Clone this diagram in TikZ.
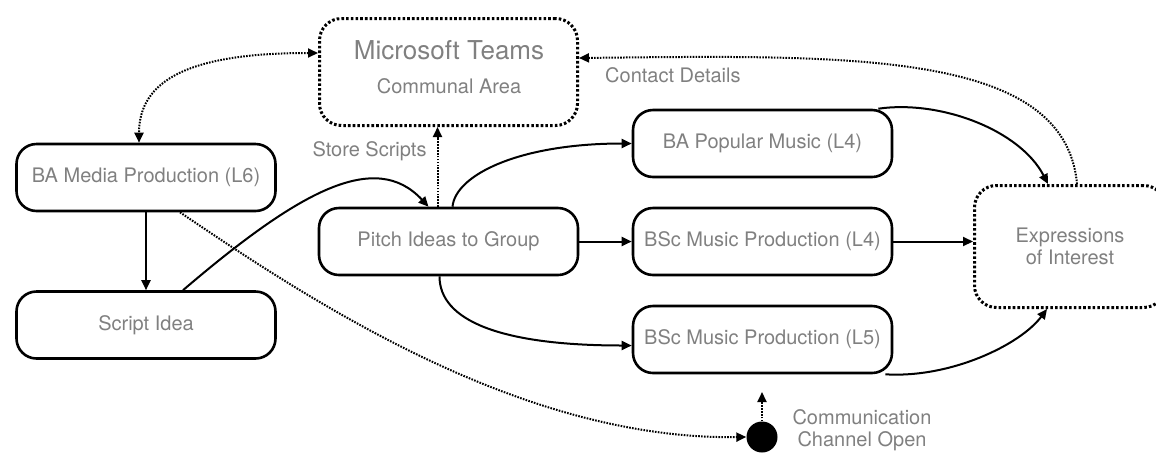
\documentclass[tikz,border=0pt]{standalone}
\usepackage{fontspec}
\setmainfont{TeX Gyre Heros}
\usetikzlibrary{arrows.meta}

\begin{document}
\begin{tikzpicture}[x=1pt,y=-1pt,
  >={Triangle[length=10pt,width=9pt]},
  stepbox/.style={draw,line width=2.6pt,rounded corners=20pt,minimum width=259pt,minimum height=67pt,text=gray,font=\fontsize{20}{22}\selectfont},
  dotbox/.style={draw,line width=3pt,dash pattern=on 2.6pt off 2.1pt,rounded corners=22pt,text=gray,align=center,font=\fontsize{20}{22}\selectfont},
  lbl/.style={text=gray,inner sep=0pt,font=\fontsize{20}{22}\selectfont},
  conn/.style={line width=2pt,->},
  dotconn/.style={line width=2pt,dash pattern=on 1.6pt off 1.3pt,->}]

  \useasboundingbox (0,0) rectangle (1156,459);
  \clip (0,0) rectangle (1156,459);

  \node[stepbox] (bam) at (146,177.5) {BA Media Production (L6)};
  \node[stepbox] (script) at (146,325) {Script Idea};
  \node[stepbox] (pitch) at (448.5,241.5) {Pitch Ideas to Group};
  \node[stepbox] (bapm) at (762.5,143.5) {BA Popular Music (L4)};
  \node[stepbox] (bsc4) at (762.5,241.5) {BSc Music Production (L4)};
  \node[stepbox] (bsc5) at (762.5,339.5) {BSc Music Production (L5)};

  \node[dotbox,minimum width=258pt,minimum height=107pt] (teams) at (448.5,72) {};
  \node[lbl,font=\fontsize{26}{30}\selectfont,anchor=base] (teamstitle) at (449,59) {Microsoft Teams};
  \node[lbl,anchor=base] (teamssub) at (449,93) {Communal Area};
  \node[dotbox,minimum width=191pt,minimum height=122pt] (eoi) at (1070,246.5) {Expressions\\of Interest};

  \node[circle,fill,minimum size=31pt,inner sep=0pt] (comm) at (762,437) {};
  \coordinate (commup) at (762,392);
  \node[lbl,align=center] (commtxt) at (862,430) {Communication\\Channel Open};

  \draw[dotconn,<->] ([yshift=19pt]teams.west) .. controls +(-128,0) and +(0,-63) .. ([xshift=-7pt]bam.north);
  \draw[conn] (bam) -- (script);
  \draw[conn] ([xshift=37pt]script.north) .. controls +(117,-100) and +(-53,-57) .. ([xshift=-20pt]pitch.north);
  \draw[dotconn] ([xshift=-11pt]pitch.north) -- node[lbl,pos=.7,left=10pt] {Store Scripts} ([xshift=-11pt]teams.south);

  \draw[conn] ([xshift=4pt]pitch.north) .. controls +(3,-32) and +(-112,0) .. (bapm.west);
  \draw[conn] (pitch) -- (bsc4);
  \draw[conn] ([xshift=-9pt]pitch.south) .. controls +(0,44) and +(-132,0) .. ([yshift=-6pt]bsc5.west);

  \draw[conn] ([xshift=-15pt]bapm.north east) .. controls +(62,-9) and +(-28,-54) .. ([xshift=-22pt]eoi.north);
  \draw[conn] (bsc4.east) -- (bsc4.east -| eoi.west);
  \draw[conn] ([xshift=-8pt]bsc5.south east) .. controls +(65,4) and +(-27,36) .. ([xshift=-23pt]eoi.south);

  \draw[dotconn] ([xshift=7pt]eoi.north) .. controls +(-12,-134) and +(271,-3) .. ([yshift=14pt]teams.east);
  \node[lbl,anchor=base west] (contact) at (605,82) {Contact Details};

  \draw[dotconn] ([xshift=34pt]bam.south) .. controls +(130,88) and +(-226,3) .. (comm.west);
  \draw[dotconn] (comm) -- (commup);
\end{tikzpicture}
\end{document}
